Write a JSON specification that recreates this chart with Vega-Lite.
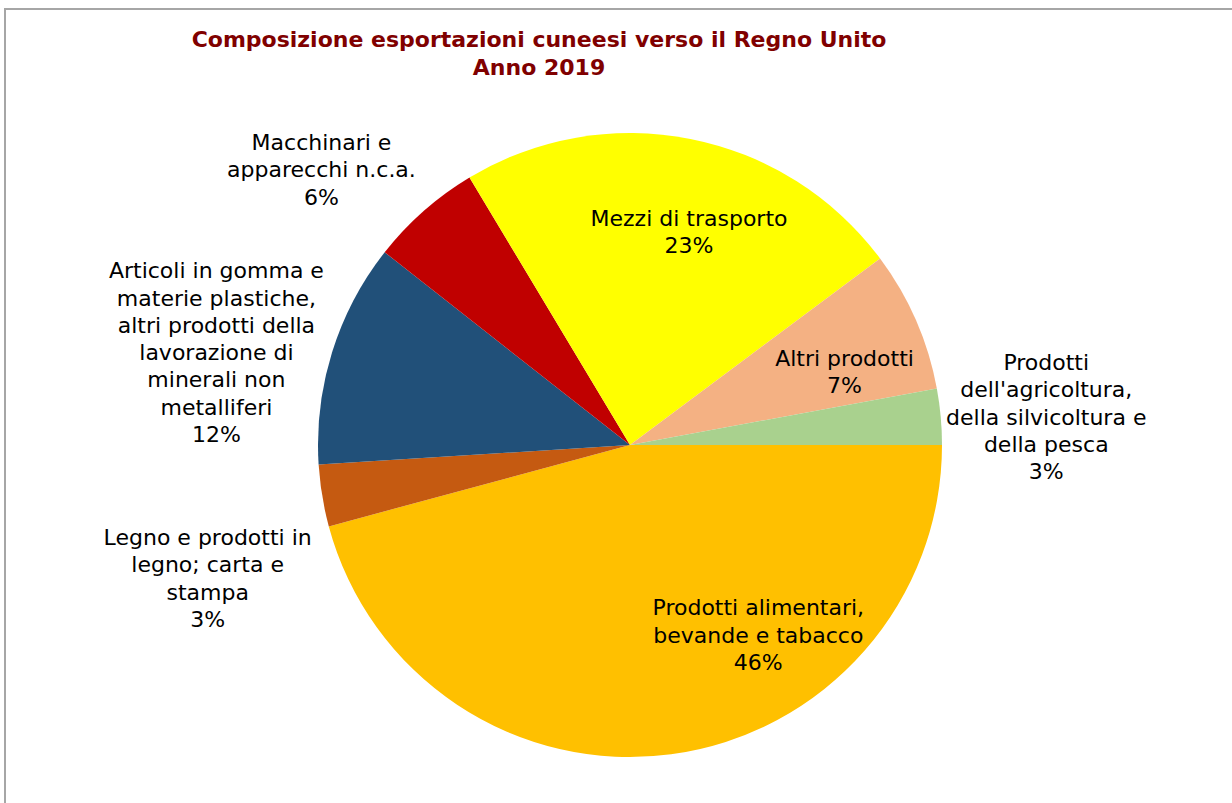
{
  "$schema": "https://vega.github.io/schema/vega-lite/v6.json",
  "autosize": "none",
  "padding": {"left": 5, "top": 9, "right": -23, "bottom": -78},
  "width": 1250,
  "height": 872,
  "background": "white",
  "config": {"view": {"stroke": null}},
  "title": {
    "text": ["Composizione esportazioni cuneesi verso il Regno Unito", "Anno 2019"],
    "font": "DejaVu Sans",
    "fontSize": 22,
    "fontWeight": "bold",
    "color": "#800000",
    "lineHeight": 28,
    "anchor": "middle",
    "frame": "group",
    "dx": -91,
    "offset": -114
  },
  "data": {
    "values": [
      {"ord": 1, "cat": "Prodotti alimentari, bevande e tabacco", "v": 45.8, "label": "Prodotti alimentari,\nbevande e tabacco\n46%"},
      {"ord": 2, "cat": "Legno e prodotti in legno; carta e stampa", "v": 3.2, "label": "Legno e prodotti in\nlegno; carta e\nstampa\n3%"},
      {"ord": 3, "cat": "Articoli in gomma e materie plastiche, altri prodotti della lavorazione di minerali non metalliferi", "v": 11.6, "label": "Articoli in gomma e\nmaterie plastiche,\naltri prodotti della\nlavorazione di\nminerali non\nmetalliferi\n12%"},
      {"ord": 4, "cat": "Macchinari e apparecchi n.c.a.", "v": 5.8, "label": "Macchinari e\napparecchi n.c.a.\n6%"},
      {"ord": 5, "cat": "Mezzi di trasporto", "v": 23.4, "label": "Mezzi di trasporto\n23%"},
      {"ord": 6, "cat": "Altri prodotti", "v": 7.3, "label": "Altri prodotti\n7%"},
      {"ord": 7, "cat": "Prodotti dell'agricoltura, della silvicoltura e della pesca", "v": 2.9, "label": "Prodotti\ndell'agricoltura,\ndella silvicoltura e\ndella pesca\n3%"}
    ]
  },
  "layer": [
    {
      "data": {"values": [{"frame": "chart"}]},
      "mark": {"type": "rect", "filled": false, "stroke": "#A6A6A6", "strokeWidth": 2},
      "encoding": {}
    },
    {
      "encoding": {
        "theta": {"field": "v", "type": "quantitative", "stack": true, "scale": {"range": [1.5707963, 7.8539816]}},
        "order": {"field": "ord", "type": "quantitative"}
      },
      "layer": [
        {
          "mark": {"type": "arc", "outerRadius": 312},
          "encoding": {
            "color": {
              "field": "cat",
              "type": "nominal",
              "legend": null,
              "scale": {
                "domain": [
                  "Prodotti alimentari, bevande e tabacco",
                  "Legno e prodotti in legno; carta e stampa",
                  "Articoli in gomma e materie plastiche, altri prodotti della lavorazione di minerali non metalliferi",
                  "Macchinari e apparecchi n.c.a.",
                  "Mezzi di trasporto",
                  "Altri prodotti",
                  "Prodotti dell'agricoltura, della silvicoltura e della pesca"
                ],
                "range": ["#FFC000", "#C55A11", "#215079", "#C00000", "#FFFF00", "#F4B183", "#A9D18E"]
              }
            }
          }
        },
        {
          "mark": {"type": "text", "radius": 200, "dx": 102, "dy": -35, "font": "DejaVu Sans", "fontSize": 22, "lineBreak": "\n", "lineHeight": 27.3, "align": "center", "baseline": "middle", "color": "#000000"},
          "encoding": {"text": {"condition": {"test": "datum.ord === 1", "field": "label", "type": "nominal"}, "value": ""}}
        },
        {
          "mark": {"type": "text", "radius": 425, "dx": -3, "dy": 24, "font": "DejaVu Sans", "fontSize": 22, "lineBreak": "\n", "lineHeight": 27.3, "align": "center", "baseline": "middle", "color": "#000000"},
          "encoding": {"text": {"condition": {"test": "datum.ord === 2", "field": "label", "type": "nominal"}, "value": ""}}
        },
        {
          "mark": {"type": "text", "radius": 430, "dx": -3, "dy": -46, "font": "DejaVu Sans", "fontSize": 22, "lineBreak": "\n", "lineHeight": 27.3, "align": "center", "baseline": "middle", "color": "#000000"},
          "encoding": {"text": {"condition": {"test": "datum.ord === 3", "field": "label", "type": "nominal"}, "value": ""}}
        },
        {
          "mark": {"type": "text", "radius": 400, "dx": -44, "dy": -2, "font": "DejaVu Sans", "fontSize": 22, "lineBreak": "\n", "lineHeight": 27.3, "align": "center", "baseline": "middle", "color": "#000000"},
          "encoding": {"text": {"condition": {"test": "datum.ord === 4", "field": "label", "type": "nominal"}, "value": ""}}
        },
        {
          "mark": {"type": "text", "radius": 217, "dx": 17, "dy": -13.5, "font": "DejaVu Sans", "fontSize": 22, "lineBreak": "\n", "lineHeight": 27.3, "align": "center", "baseline": "middle", "color": "#000000"},
          "encoding": {"text": {"condition": {"test": "datum.ord === 5", "field": "label", "type": "nominal"}, "value": ""}}
        },
        {
          "mark": {"type": "text", "radius": 233, "dx": 1, "dy": 7, "font": "DejaVu Sans", "fontSize": 22, "lineBreak": "\n", "lineHeight": 27.3, "align": "center", "baseline": "middle", "color": "#000000"},
          "encoding": {"text": {"condition": {"test": "datum.ord === 6", "field": "label", "type": "nominal"}, "value": ""}}
        },
        {
          "mark": {"type": "text", "radius": 418, "dx": 0, "dy": -44, "font": "DejaVu Sans", "fontSize": 22, "lineBreak": "\n", "lineHeight": 27.3, "align": "center", "baseline": "middle", "color": "#000000"},
          "encoding": {"text": {"condition": {"test": "datum.ord === 7", "field": "label", "type": "nominal"}, "value": ""}}
        }
      ]
    }
  ]
}
